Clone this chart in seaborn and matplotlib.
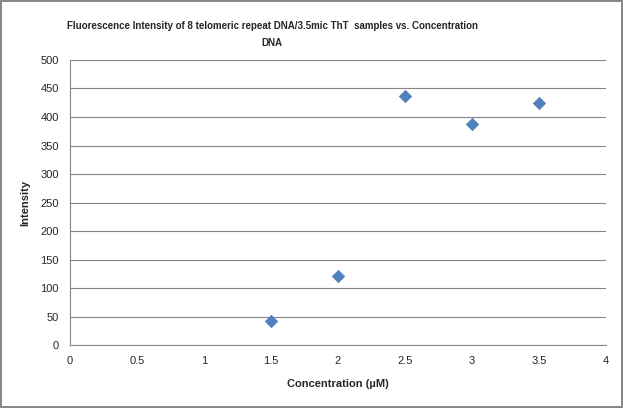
import matplotlib
matplotlib.use('Agg')
import matplotlib.pyplot as plt
import seaborn as sns
import pandas as pd

concentration = [1.5, 2.0, 2.5, 3.0, 3.5]
intensity = [43, 122, 437, 387, 425]
x_ticks = [0, 0.5, 1, 1.5, 2, 2.5, 3, 3.5, 4]
x_labels = ['0', '0.5', '1', '1.5', '2', '2.5', '3', '3.5', '4']
y_ticks = list(range(0, 501, 50))

df = pd.DataFrame({'Concentration': concentration, 'Intensity': intensity})

sns.set_style('white')
plt.rcParams['font.family'] = ['Liberation Sans', 'DejaVu Sans']

fig = plt.figure(figsize=(6.23, 4.08), dpi=100)
fig.patch.set_edgecolor('#888888')
fig.patch.set_linewidth(1.5)
ax = fig.add_axes([0.112, 0.154, 0.861, 0.699])

sns.scatterplot(data=df, x='Concentration', y='Intensity', marker='D', s=40,
                color='#4F81BD', edgecolor='#4F81BD', ax=ax, zorder=3)

ax.set_xlim(0, 4)
ax.set_ylim(0, 500)
ax.set_xticks(x_ticks)
ax.set_xticklabels(x_labels)
ax.set_yticks(y_ticks)
ax.yaxis.grid(True, color='#868686', linewidth=0.8)
ax.tick_params(axis='both', labelsize=8, length=0, pad=8)
for side in ['top', 'right']:
    ax.spines[side].set_visible(False)
ax.spines['left'].set_color('#868686')
ax.spines['bottom'].set_color('#868686')

ax.set_xlabel('Concentration (µM)', fontsize=8, fontweight='bold', labelpad=9)
ax.set_ylabel('Intensity', fontsize=8, fontweight='bold', labelpad=7)
fig.text(0.437, 0.915, 'Fluorescence Intensity of 8 telomeric repeat DNA/3.5mic ThT  samples vs. Concentration\nDNA',
         ha='center', va='center', fontsize=7, fontweight='bold', linespacing=1.95)

plt.savefig('out.png', dpi=100, edgecolor=fig.get_edgecolor())
